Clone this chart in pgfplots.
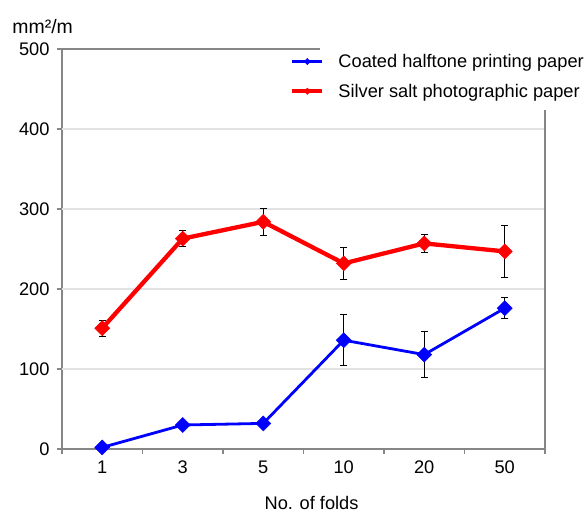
\documentclass[border=0pt]{standalone}
\usepackage{fontspec}
\setmainfont{Liberation Sans}
\usepackage{pgfplots}
\usepackage{pgfplotstable}
\pgfplotsset{compat=1.18}
\definecolor{axgray}{RGB}{134,134,134}
\definecolor{gridgray}{RGB}{226,226,226}
\pgfplotstableread{
x blue bluee red rede
0 2 1 151 10
1 30 2 263 10
2 32 2 284 17
3 136 32 232 20
4 118 29 257 11
5 176 13 247 33
}\data
\begin{document}
\begin{tikzpicture}
\path[use as bounding box] (-62bp,-65bp) rectangle (525bp,449bp);
\begin{axis}[
  scale only axis, width=483bp, height=400bp,
  xmin=-0.5, xmax=5.5, ymin=0, ymax=500,
  clip=false,
  axis x line*=bottom, axis y line*=left,
  axis line style={axgray, line width=1.3bp},
  tick style={axgray, line width=1.2bp},
  tick align=outside, major tick length=5bp,
  xtick={-0.5,0.5,...,5.5}, xticklabels={},
  extra x ticks={0,1,2,3,4,5},
  extra x tick labels={1,3,5,10,20,50},
  extra x tick style={major tick length=0pt},
  xticklabel style={yshift=-8bp},
  yticklabel style={xshift=-4bp},
  ytick={0,100,...,500},
  font=\fontsize{18.3}{21}\selectfont,
  ticklabel style={font=\fontsize{18.3}{21}\selectfont, text=black},
  /pgf/number format/assume math mode=true,
  legend style={at={(rel axis cs:0.472,1)}, anchor=north west, yshift=-3bp,
    draw=none, fill=none, inner sep=0pt, row sep=11bp,
    nodes={inner sep=2bp}, column sep=12bp,
    font=\fontsize{18.3}{21}\selectfont},
  legend cell align=left,
  legend image code/.code={\draw[#1, mark size=2.2bp, mark repeat=2, mark phase=2] plot coordinates {(0bp,0bp) (15bp,0bp) (30bp,0bp)};},
]
\foreach \g in {100,200,300,400} {
  \edef\tmp{\noexpand\draw[gridgray, line width=1.3bp] (axis cs:-0.5,\g) -- (axis cs:5.5,\g);}
  \tmp
}
\draw[axgray, line width=1.3bp] (axis cs:-0.5,500) -- (axis cs:2.7,500);
\draw[axgray, line width=1.3bp] (axis cs:5.5,0) -- (axis cs:5.5,424);
\addplot[blue, line width=2.8bp, mark=square*, mark size=5.3bp,
  mark options={rotate=45, fill=blue, line width=0.5bp},
  error bars/.cd, y dir=both, y explicit,
  error bar style={black, line width=0.9bp},
  error mark options={rotate=90, black, mark size=3.5bp, line width=0.9bp}]
  table[x=x, y=blue, y error=bluee] {\data};
\addlegendentry{Coated halftone printing paper}
\addplot[red, line width=4.3bp, mark=square*, mark size=5.3bp,
  mark options={rotate=45, fill=red, line width=0.5bp},
  error bars/.cd, y dir=both, y explicit,
  error bar style={black, line width=0.9bp},
  error mark options={rotate=90, black, mark size=3.5bp, line width=0.9bp}]
  table[x=x, y=red, y error=rede] {\data};
\addlegendentry{Silver salt photographic paper}
\node[anchor=base, font=\fontsize{19.5}{22}\selectfont] at (axis cs:-0.74,519) {mm²/m};
\node[anchor=base, font=\fontsize{18.3}{21}\selectfont] at (axis cs:2.6,-75) {No. of folds};
\end{axis}
\end{tikzpicture}
\end{document}
